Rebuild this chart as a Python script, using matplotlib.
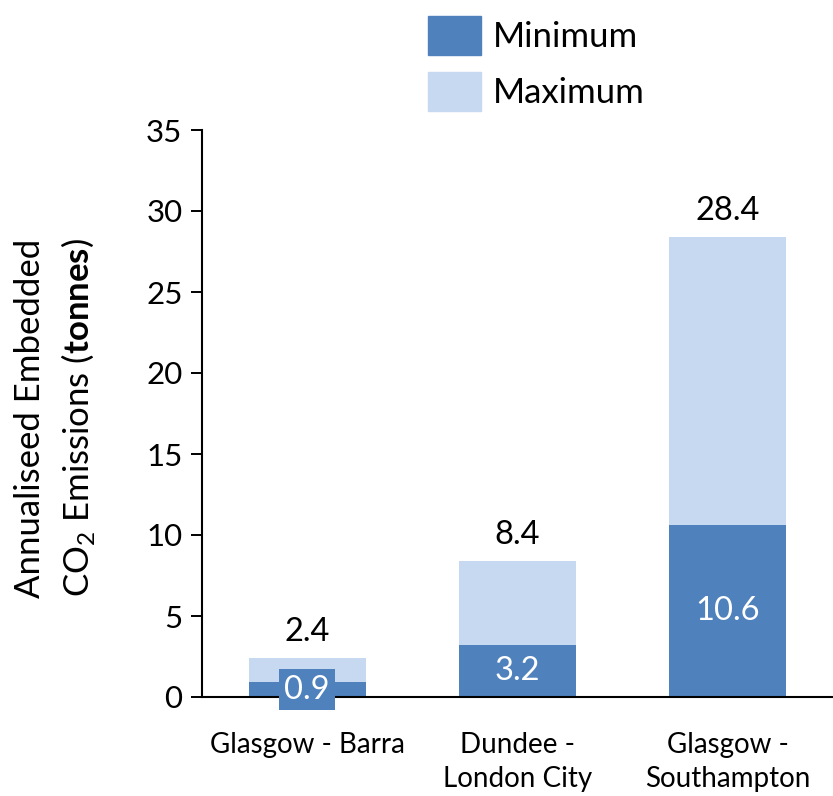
import matplotlib
matplotlib.use("Agg")
import matplotlib.pyplot as plt
from matplotlib.patches import Patch

plt.rcParams["font.family"] = ["Lato", "DejaVu Sans"]
plt.rcParams["mathtext.fontset"] = "custom"
plt.rcParams["mathtext.rm"] = "Lato"
plt.rcParams["mathtext.bf"] = "Lato:bold"

routes = ["Glasgow - Barra", "Dundee -\nLondon City", "Glasgow -\nSouthampton"]
minimum = [0.9, 3.2, 10.6]
maximum = [2.4, 8.4, 28.4]

DARK = "#4F81BD"
LIGHT = "#C6D9F1"

W, H = 833, 796
fig = plt.figure(figsize=(W / 100, H / 100), dpi=100)
ax = fig.add_axes([202 / W, 1 - 697 / H, 1 - 202 / W, (697 - 130) / H])

x = range(len(routes))
ax.bar(x, maximum, width=0.555, color=LIGHT, zorder=2)
ax.bar(x, minimum, width=0.555, color=DARK, zorder=3)

# totals above the light bars
for xi, v in zip(x, maximum):
    ax.annotate(f"{v:.1f}", (xi, v), textcoords="offset points", xytext=(0, 8),
                ha="center", va="bottom", fontsize=23.5)

# minimum values centred in the dark bars; small bar gets a filled box
for xi, v in zip(x, minimum):
    kw = {}
    if v < 2:
        kw["bbox"] = dict(boxstyle="square,pad=0.16", fc=DARK, ec="none")
    ax.text(xi, v / 2, f"{v:.1f}", ha="center", va="center", fontsize=23.5,
            color="white", zorder=5, **kw)

ax.set_xlim(-0.5, 2.5)
ax.set_ylim(0, 35)
ax.set_yticks(range(0, 36, 5))
ax.set_xticks(list(x))
ax.set_xticklabels(routes, fontsize=20, linespacing=1.4)
ax.tick_params(axis="x", length=0, pad=25)
ax.tick_params(axis="y", length=8, width=1.4, labelsize=22.5, pad=6)
for s in ("top", "right"):
    ax.spines[s].set_visible(False)
for s in ("left", "bottom"):
    ax.spines[s].set_linewidth(1.5)
ax.spines["bottom"].set_zorder(4)

fig.text(30 / W, 1 - 418 / H, "Annualiseed Embedded", rotation=90,
         ha="center", va="center", fontsize=25)
fig.text(78 / W, 1 - 418 / H,
         r"CO$_{\mathregular{2}}$ Emissions ($\mathbf{tonnes}$)", rotation=90,
         ha="center", va="center", fontsize=25)

handles = [Patch(color=DARK, label="Minimum"), Patch(color=LIGHT, label="Maximum")]
fig.legend(handles=handles, loc="upper left", bbox_to_anchor=(428 / W, 1 - 16 / H),
           frameon=False, fontsize=25, handlelength=1.53, handleheight=1.35,
           labelspacing=0.5, handletextpad=0.35, borderpad=0, borderaxespad=0)

fig.savefig("out.png", dpi=100)
